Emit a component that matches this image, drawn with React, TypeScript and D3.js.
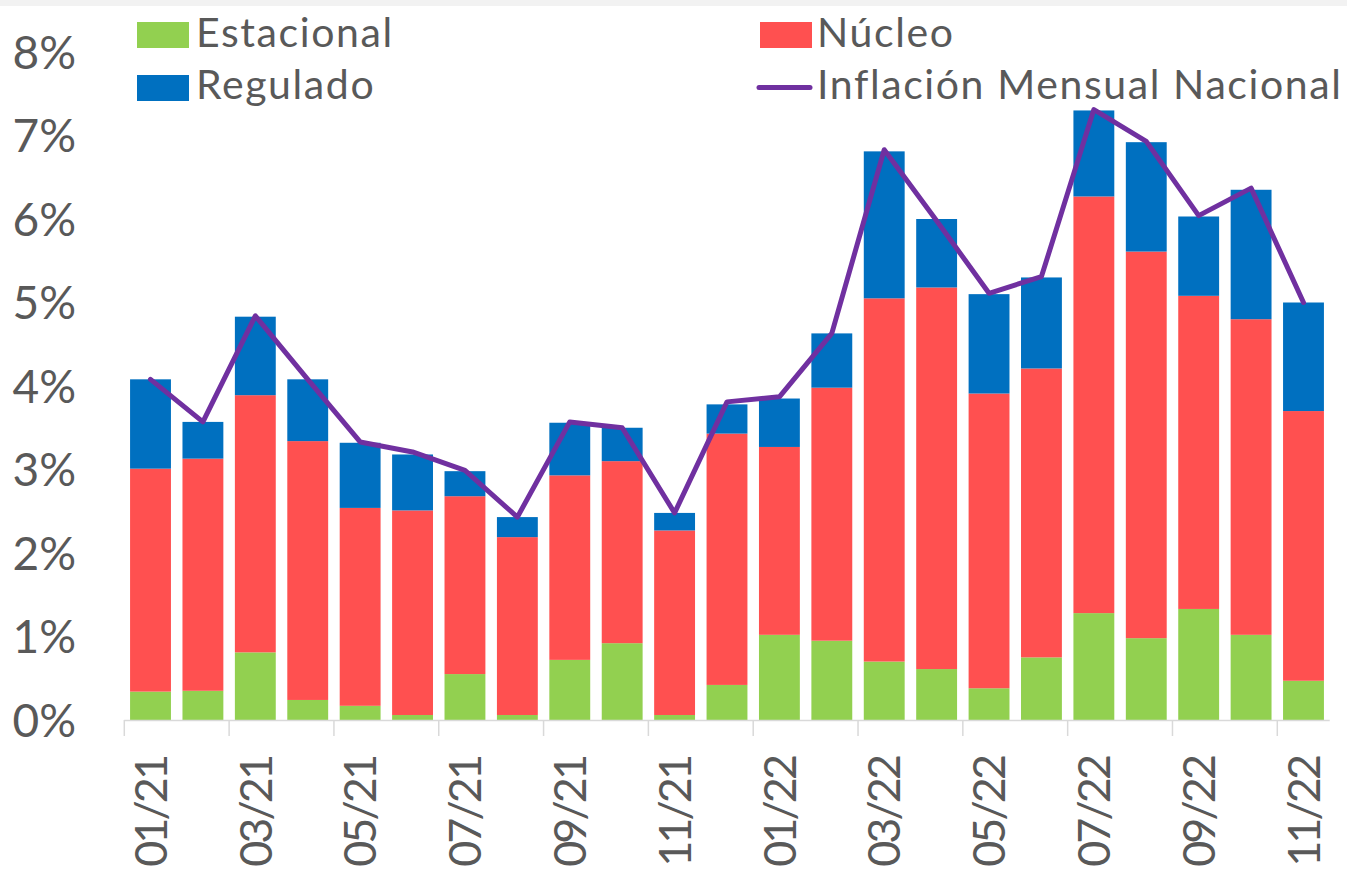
import React from "react";
import * as d3 from "d3";

const categories = ["01/21","02/21","03/21","04/21","05/21","06/21","07/21","08/21","09/21","10/21","11/21","12/21","01/22","02/22","03/22","04/22","05/22","06/22","07/22","08/22","09/22","10/22","11/22"];
const estacional = [0.34,0.35,0.81,0.24,0.17,0.06,0.55,0.06,0.72,0.92,0.06,0.42,1.02,0.95,0.70,0.61,0.38,0.75,1.28,0.98,1.33,1.02,0.47];
const nucleo = [2.67,2.78,3.08,3.10,2.37,2.45,2.13,2.13,2.21,2.18,2.21,3.01,2.25,3.03,4.35,4.57,3.53,3.46,4.99,4.63,3.75,3.78,3.23];
const regulado = [1.07,0.44,0.94,0.74,0.78,0.67,0.30,0.24,0.63,0.40,0.21,0.35,0.58,0.65,1.76,0.82,1.19,1.09,1.03,1.31,0.95,1.55,1.30];
const inflacion = [4.08,3.57,4.84,4.08,3.33,3.21,2.99,2.43,3.57,3.50,2.48,3.81,3.87,4.63,6.83,5.98,5.11,5.31,7.31,6.93,6.04,6.37,5.00];
const yTicks = [0,1,2,3,4,5,6,7,8];

const W = 1347, H = 885;
const colors = { est: "#92D050", nuc: "#FF5050", reg: "#0070C0", line: "#7030A0", text: "#595959", axis: "#D9D9D9" };
const FONT = "Lato, 'Open Sans', sans-serif";

export default function App() {
  const x = d3.scaleBand<string>().domain(categories).range([124.3, 1329.7]).paddingInner(0.22).paddingOuter(0.11);
  const y = d3.scaleLinear().domain([0, 8]).range([720, 52]);
  const series = [
    { key: "est", vals: estacional, color: colors.est },
    { key: "nuc", vals: nucleo, color: colors.nuc },
    { key: "reg", vals: regulado, color: colors.reg },
  ];
  const step = x.step();
  const x0 = x.range()[0];
  const center = (c: string) => (x(c) as number) + x.bandwidth() / 2;
  const line = d3.line<number>().x((_, i) => center(categories[i])).y((d) => y(d));

  const rects: JSX.Element[] = [];
  categories.forEach((c, i) => {
    let base = 0;
    series.forEach((s) => {
      const v = s.vals[i];
      rects.push(
        <rect key={s.key + i} x={x(c)} width={x.bandwidth()} y={y(base + v)} height={y(base) - y(base + v)} fill={s.color} />
      );
      base += v;
    });
  });

  const legendText = { fontSize: 41, letterSpacing: 1.6, fill: colors.text } as const;

  return (
    <div style={{ position: "absolute", left: 0, top: 0 }}>
      <svg width={W} height={H} style={{ display: "block", fontFamily: FONT }}>
        <rect x={0} y={0} width={W} height={H} fill="#fff" />
        <rect x={0} y={0} width={W} height={6} fill="#F2F2F2" />
        {yTicks.map((t) => (
          <text key={t} x={76} y={y(t)} dy="0.36em" textAnchor="end" fontSize={46} fill={colors.text}>{t}%</text>
        ))}
        {rects}
        <line x1={x0} x2={x.range()[1]} y1={720.5} y2={720.5} stroke={colors.axis} strokeWidth={1.5} />
        {categories.map((c, i) => i % 2 === 0 ? (
          <g key={"t" + c}>
            <line x1={x0 + i * step} x2={x0 + i * step} y1={720} y2={736} stroke={colors.axis} strokeWidth={1.5} />
            <text transform={`translate(${center(c)},757) rotate(-90)`} dy="0.36em" textAnchor="end" fontSize={45} letterSpacing={-3} fill={colors.text}>{c}</text>
          </g>
        ) : null)}
        <path d={line(inflacion) || ""} fill="none" stroke={colors.line} strokeWidth={5} strokeLinejoin="round" strokeLinecap="round" />
        <rect x={137} y={22} width={52} height={26} fill={colors.est} />
        <text x={196} y={47} {...legendText}>Estacional</text>
        <rect x={137} y={75} width={52} height={26} fill={colors.reg} />
        <text x={196} y={99} {...legendText}>Regulado</text>
        <rect x={760} y={22} width={52} height={26} fill={colors.nuc} />
        <text x={817} y={47} {...legendText}>Núcleo</text>
        <line x1={759} x2={810} y1={87.5} y2={87.5} stroke={colors.line} strokeWidth={5} strokeLinecap="round" />
        <text x={817} y={99} {...legendText}>Inflación Mensual Nacional</text>
      </svg>
    </div>
  );
}
